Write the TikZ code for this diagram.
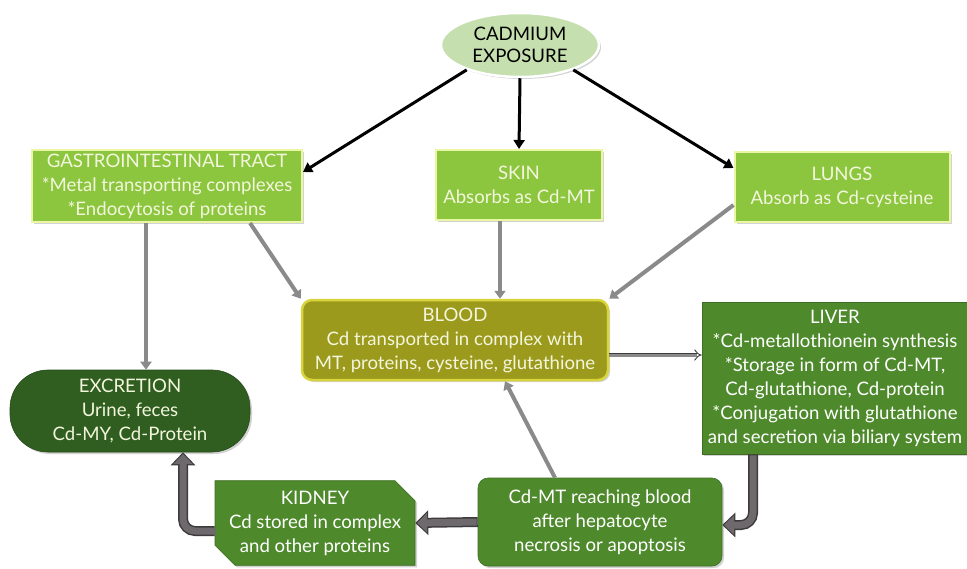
\documentclass[tikz,border=0pt]{standalone}
\usepackage{fontspec}
\setmainfont{Lato}
\usetikzlibrary{arrows.meta,shapes.geometric,shapes.misc,shadows,calc}
\definecolor{cadfill}{HTML}{C5DFAE}
\definecolor{ltgreen}{HTML}{8CC63F}
\definecolor{ltborder}{HTML}{EAF5A6}
\definecolor{olive}{HTML}{9C9A1C}
\definecolor{oliveborder}{HTML}{D9D43C}
\definecolor{midgreen}{HTML}{4E8A2C}
\definecolor{dkgreen}{HTML}{2F5E20}
\definecolor{creamtxt}{HTML}{F3F6DC}
\definecolor{grayarr}{HTML}{8A8A8A}
\definecolor{arrdark}{HTML}{3E3B3D}
\definecolor{arrmid}{HTML}{6E696C}
\begin{document}
\begin{tikzpicture}[x=1pt,y=-1pt,
  every node/.style={font=\fontsize{18.6}{24}\selectfont, align=center, inner sep=1pt},
  shad/.style={drop shadow={opacity=0.35, shadow xshift=2pt, shadow yshift=-2pt}},
  lbox/.style={rectangle, fill=ltgreen, draw=ltborder, line width=2pt, text=creamtxt, shad},
  gbox/.style={fill=midgreen, draw=midgreen!80!black, line width=0.6pt, text=white, shad},
  blk/.style={line width=3pt, draw=black, -{Triangle[length=9pt,width=11pt]}},
  gry/.style={line width=4pt, draw=grayarr, -{Triangle[length=8pt,width=11pt]}},
  blkout/.style={line width=10pt, draw=arrdark, -{Triangle[length=13pt,width=24pt]}},
  blkin/.style={line width=7pt, draw=arrmid, shorten >=1.8pt, -{Triangle[length=10pt,width=19pt]}},
]
\useasboundingbox (0,0) rectangle (967,568);
\fill[white] (0,0) rectangle (967,568);

\node[ellipse, fill=cadfill, draw=white, line width=2.5pt, minimum width=158pt, minimum height=64pt, inner sep=0pt, text=black, shad] (cad) at (520,45) {CADMIUM\\[-2pt]EXPOSURE};

\node[lbox, minimum width=270pt, minimum height=72pt] (gi) at (167,186)
  {GASTROINTESTINAL TRACT\\*Metal transporting complexes\\*Endocytosis of proteins};
\node[lbox, minimum width=166pt, minimum height=70pt] (skin) at (519,185)
  {SKIN\\Absorbs as Cd-MT};
\node[lbox, minimum width=215pt, minimum height=70pt] (lungs) at (842,187)
  {LUNGS\\Absorb as Cd-cysteine};

\node[rectangle, rounded corners=10pt, fill=olive, draw=oliveborder, line width=2.5pt, text=creamtxt, minimum width=306pt, minimum height=80pt, shad] (blood) at (455,340)
  {BLOOD\\Cd transported in complex with\\MT, proteins, cysteine, glutathione};

\node[gbox, rectangle, minimum width=266pt, minimum height=152pt] (liver) at (835,378)
  {LIVER\\*Cd-metallothionein synthesis\\*Storage in form of Cd-MT,\\Cd-glutathione, Cd-protein\\*Conjugation with glutathione\\and secretion via biliary system};

\node[rectangle, rounded corners=38pt, fill=dkgreen, draw=dkgreen!80!black, line width=0.6pt, text=creamtxt, minimum width=240pt, minimum height=82pt, shad] (exc) at (130,411)
  {EXCRETION\\Urine, feces\\Cd-MY, Cd-Protein};

\node[gbox, chamfered rectangle, chamfered rectangle corners={north east, south west}, chamfered rectangle xsep=10pt, chamfered rectangle ysep=10pt, minimum width=200pt, minimum height=70pt, inner sep=0pt] (kid) at (315,523)
  {KIDNEY\\Cd stored in complex\\and other proteins};

\node[gbox, rectangle, rounded corners=10pt, minimum width=244pt, minimum height=88pt] (cdmt) at (600,522)
  {Cd-MT reaching blood\\after hepatocyte\\necrosis or apoptosis};

% black arrows from exposure
\draw[blk] (cad.205) -- ([yshift=14pt]gi.east);
\draw[blk] (cad.south) -- (skin.north);
\draw[blk] (cad.-25) -- ([yshift=19pt]lungs.west);

% gray arrows
\draw[gry] ([xshift=-21pt]gi.south) -- ([xshift=-21pt]gi.south |- exc.north);
\draw[gry] ([xshift=83pt]gi.south) -- (blood.north west);
\draw[gry] ([xshift=-19pt]skin.south) -- ([xshift=-19pt]skin.south |- blood.north);
\draw[gry] ([yshift=-18pt]lungs.west) -- (blood.north east);
\draw[gry] ([xshift=-45pt]cdmt.north) -- ([xshift=50pt]blood.south);

% blood to liver double arrow
\draw[double=grayarr, double distance=3pt, draw=arrdark, line width=0.9pt, -{Implies}] ([yshift=-15pt]blood.east) -- ([yshift=-15pt]blood.east -| liver.west);

% block arrows
\coordinate (lv) at ([xshift=-82pt]liver.south);
\draw[blkout, rounded corners=12pt] (lv) |- ([yshift=-3pt]cdmt.east);
\draw[blkin, rounded corners=12pt] ([yshift=-1pt]lv) |- ([yshift=-3pt]cdmt.east);
\draw[blkout] (cdmt.west) -- (kid.east);
\draw[blkin] ([xshift=-1pt]cdmt.west) -- (kid.east);
\coordinate (ex) at ([xshift=53pt]exc.south);
\draw[blkout, rounded corners=12pt] ([yshift=-8pt]kid.west) -| (ex);
\draw[blkin, rounded corners=12pt] ([yshift=-8pt, xshift=1pt]kid.west) -| (ex);
\end{tikzpicture}
\end{document}
